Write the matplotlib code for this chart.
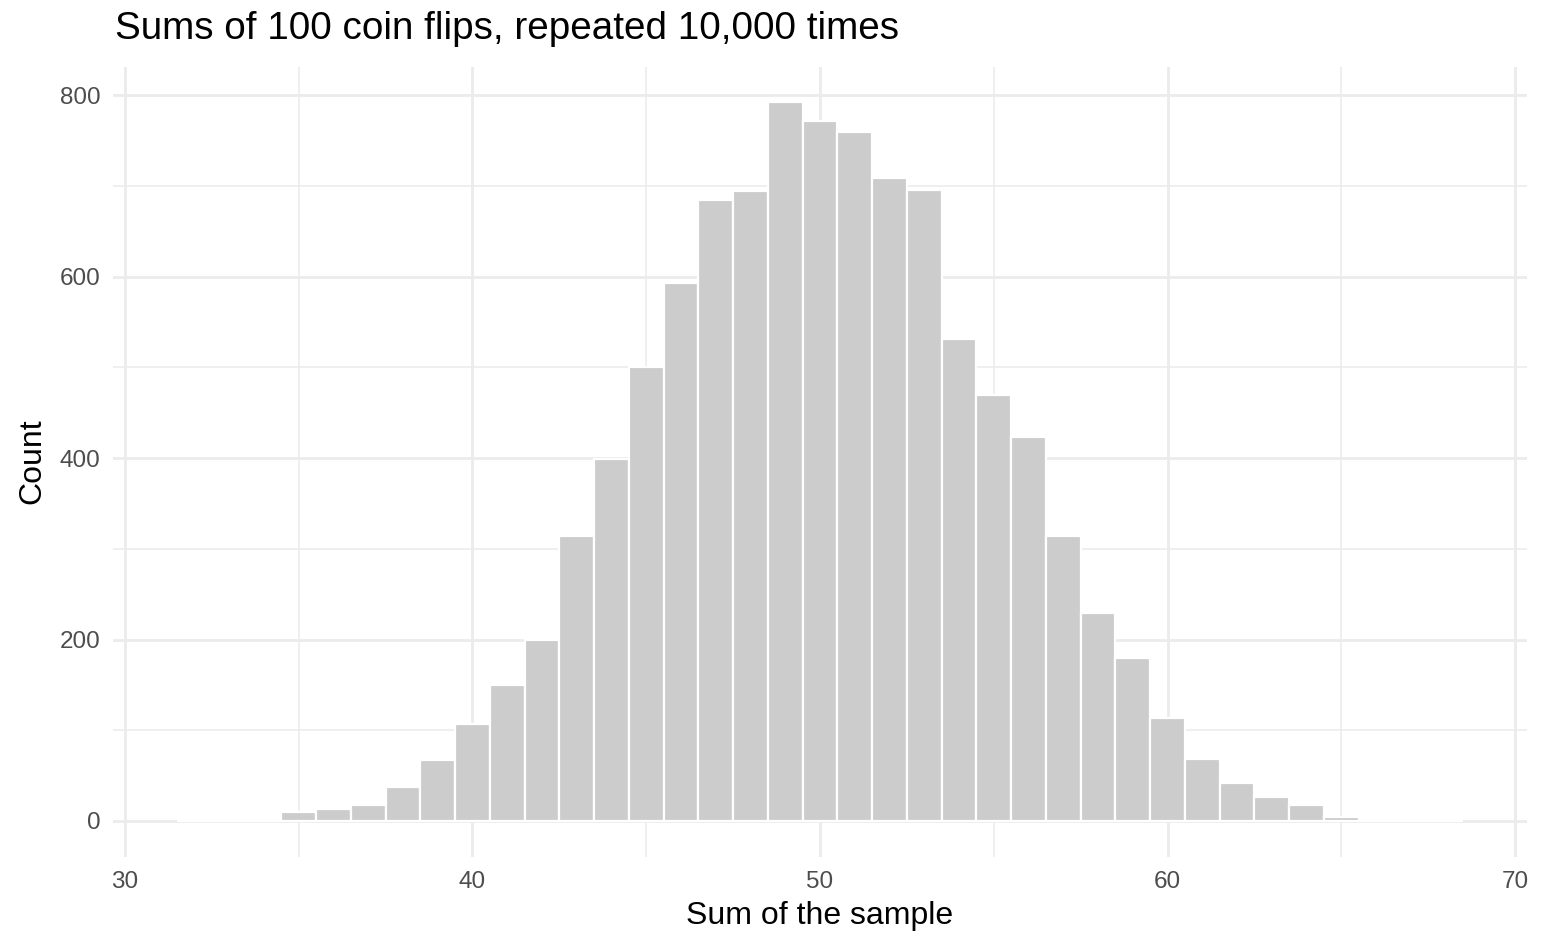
import numpy as np
import matplotlib
matplotlib.use("Agg")
import matplotlib.pyplot as plt
from matplotlib.ticker import MultipleLocator

plt.rcParams["font.family"] = ["Liberation Sans", "DejaVu Sans"]

# histogram bins (width 1, centred on integer sums) and their counts
sums = list(range(32, 69))
counts = [0, 0, 0, 10, 13, 18, 37, 67, 107, 150,
          199, 314, 399, 500, 593, 685, 694, 792, 771, 759,
          709, 695, 531, 470, 423, 314, 229, 180, 113, 68,
          42, 26, 18, 4, 0, 2, 0]

x_ticks = [30, 40, 50, 60, 70]
y_ticks = [0, 200, 400, 600, 800]

BAR = "#CCCCCC"
GRID = "#EBEBEB"
TICK_TXT = "#4D4D4D"

fig = plt.figure(figsize=(15.6, 9.5), dpi=100)
ax = fig.add_axes([0.0723, 0.098, 0.9067, 0.832])

ax.bar(sums, counts, width=1.0, color=BAR, edgecolor="white",
       linewidth=1.6, zorder=3)

ax.set_xlim(29.65, 70.35)
ax.set_ylim(-39.6, 831.6)
ax.set_xticks(x_ticks)
ax.set_yticks(y_ticks)
ax.xaxis.set_minor_locator(MultipleLocator(5))
ax.yaxis.set_minor_locator(MultipleLocator(100))

ax.grid(True, which="major", color=GRID, linewidth=2.0, zorder=0)
ax.grid(True, which="minor", color=GRID, linewidth=1.1, zorder=0)
ax.set_axisbelow(True)
for s in ax.spines.values():
    s.set_visible(False)
ax.tick_params(which="both", length=0)
ax.tick_params(axis="both", labelsize=17.5, labelcolor=TICK_TXT)
ax.tick_params(axis="x", pad=10)
ax.tick_params(axis="y", pad=9)

# axis titles and plot title, placed like ggplot's theme_minimal
fig.text(0.5256, 1 - 916 / 950, "Sum of the sample", fontsize=23,
         ha="center", va="center")
fig.text(0.0205, 0.5142, "Count", fontsize=23, rotation=90,
         ha="center", va="center")
fig.text(0.0737, 1 - 29 / 950, "Sums of 100 coin flips, repeated 10,000 times",
         fontsize=27.8, ha="left", va="center")

fig.savefig("out.png", dpi=100, facecolor="white")
